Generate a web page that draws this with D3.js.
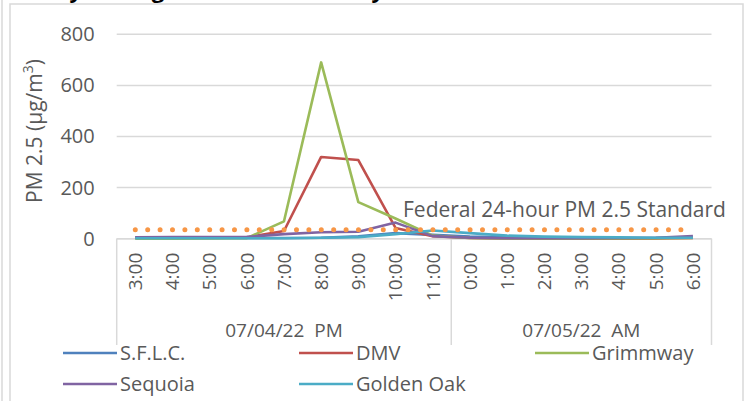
<!DOCTYPE html>
<html>
<head>
<meta charset="utf-8">
<script src="https://cdn.jsdelivr.net/npm/d3@7"></script>
<style>
  body { margin: 0; background: #fff; }
  text { font-family: 'Open Sans', 'Noto Sans', sans-serif; fill: #595959; white-space: pre; }
</style>
</head>
<body>
<div id="chart"></div>
<script>
// data
const hours = ['3:00', '4:00', '5:00', '6:00', '7:00', '8:00', '9:00', '10:00', '11:00',
  '0:00', '1:00', '2:00', '3:00', '4:00', '5:00', '6:00'];
const groups = ['07/04/22  PM', '07/05/22  AM'];
const groupSizes = [9, 7];
const sflc = [5, 5, 4, 3, 3, 4, 9, 22, 15, 8, 5, 4, 3, 3, 3, 6];
const dmv = [3, 3, 3, 5, 30, 320, 308, 42, 10, 3, 1, 0, 0, 0, 1, 3];
const grimmway = [0, 0, 1, 2, 68, 690, 143, 79, 12, 3, 1, 1, 1, 1, 2, 3];
const sequoia = [5, 6, 6, 7, 18, 25, 27, 63, 10, 4, 2, 2, 2, 3, 4, 10];
const goldenOak = [2, 2, 2, 2, 2, 4, 6, 18, 32, 22, 12, 8, 6, 5, 4, 4];
const standard = [35, 35, 35, 35, 35, 35, 35, 35, 35, 35, 35, 35, 35, 35, 35, 35];
const yTicks = [0, 200, 400, 600, 800];

const series = [
  {name: 'S.F.L.C.', values: sflc, color: '#4f81bd'},
  {name: 'DMV', values: dmv, color: '#c0504d'},
  {name: 'Grimmway', values: grimmway, color: '#9bbb59'},
  {name: 'Sequoia', values: sequoia, color: '#8064a2'},
  {name: 'Golden Oak', values: goldenOak, color: '#4bacc6'}
];

const width = 749;
const height = 401;
const plot = {left: 116.7, right: 711.5, top: 34.3, bottom: 238.7};
const grid = '#d9d9d9';

const svg = d3.select('#chart').append('svg')
  .attr('width', width)
  .attr('height', height);

// chart frame
svg.append('line')
  .attr('x1', 2).attr('x2', 2).attr('y1', 0).attr('y2', height)
  .style('stroke', grid).style('stroke-width', 1.5);
svg.append('rect')
  .attr('x', 10).attr('y', 4)
  .attr('width', 733).attr('height', height + 10)
  .style('fill', 'none').style('stroke', grid).style('stroke-width', 1.5);

// title, cut by the top edge as in the source
svg.append('text')
  .attr('x', 8).attr('y', -2.5)
  .style('font-size', '22px').style('font-weight', 'bold').style('fill', '#000')
  .text('Hourly Average Concentrations by Site');

// scales
const x = d3.scaleBand()
  .domain(d3.range(hours.length))
  .range([plot.left, plot.right]);
const cx = i => x(i) + x.bandwidth() / 2;
const y = d3.scaleLinear()
  .domain([0, 800])
  .range([plot.bottom, plot.top]);

// gridlines
svg.append('g').attr('class', 'grid')
  .selectAll('line')
  .data(yTicks)
  .join('line')
  .attr('x1', plot.left).attr('x2', plot.right)
  .attr('y1', d => y(d)).attr('y2', d => y(d))
  .style('stroke', grid).style('stroke-width', 1.5);

// y axis
const yAxis = svg.append('g')
  .attr('transform', `translate(${plot.left}, 0)`)
  .call(d3.axisLeft(y).tickValues(yTicks).tickSize(0).tickPadding(22));
yAxis.select('.domain').remove();
yAxis.selectAll('text')
  .style('font-size', '20px')
  .style('font-family', "'Open Sans', sans-serif")
  .attr('fill', '#595959');

// y title
const yTitle = svg.append('text')
  .attr('transform', 'translate(42, 131) rotate(-90)')
  .attr('text-anchor', 'middle')
  .style('font-size', '21px');
yTitle.append('tspan').text('PM 2.5 (µg/m');
yTitle.append('tspan').text('3').attr('baseline-shift', 'super').style('font-size', '14px');
yTitle.append('tspan').text(')');

// x axis: hour labels
const xAxis = svg.append('g')
  .attr('transform', `translate(0, ${plot.bottom})`)
  .call(d3.axisBottom(x).tickFormat(i => hours[i]).tickSize(0));
xAxis.select('.domain').remove();
xAxis.selectAll('text')
  .attr('transform', 'rotate(-90)')
  .attr('text-anchor', 'end')
  .attr('x', -14)
  .attr('y', 0)
  .attr('dy', '0.36em')
  .style('font-size', '19px')
  .style('font-family', "'Open Sans', sans-serif")
  .attr('fill', '#595959');

// x axis: date groups and dividers
let start = 0;
const bounds = [x(0)];
groups.forEach((g, k) => {
  const end = start + groupSizes[k] - 1;
  const left = x(start);
  const right = x(end) + x.bandwidth();
  bounds.push(right);
  svg.append('text')
    .attr('x', (left + right) / 2)
    .attr('y', 330)
    .attr('dy', '0.35em')
    .attr('text-anchor', 'middle')
    .style('font-size', '19px')
    .text(g);
  start = end + 1;
});
svg.append('line')
  .attr('x1', plot.left).attr('x2', plot.right)
  .attr('y1', plot.bottom).attr('y2', plot.bottom)
  .style('stroke', grid).style('stroke-width', 1.5);
svg.append('g').selectAll('line')
  .data(bounds)
  .join('line')
  .attr('x1', d => d).attr('x2', d => d)
  .attr('y1', plot.bottom).attr('y2', 345)
  .style('stroke', grid).style('stroke-width', 1.5);

// series lines
const line = d3.line()
  .x((d, i) => cx(i))
  .y(d => y(d));
svg.append('g').attr('class', 'lines')
  .selectAll('path')
  .data(series)
  .join('path')
  .attr('d', d => line(d.values))
  .style('fill', 'none')
  .style('stroke', d => d.color)
  .style('stroke-width', 2.6)
  .style('stroke-linejoin', 'round');

// federal standard, round dots
svg.append('path')
  .attr('d', line(standard))
  .style('fill', 'none')
  .style('stroke', '#f79646')
  .style('stroke-width', 5)
  .style('stroke-linecap', 'round')
  .style('stroke-dasharray', '0 12.4');
svg.append('text')
  .attr('x', 403)
  .attr('y', 217)
  .style('font-size', '21px')
  .text('Federal 24-hour PM 2.5 Standard');

// legend
const legend = svg.append('g').attr('class', 'legend')
  .selectAll('g')
  .data(series)
  .join('g')
  .attr('transform', (d, i) => `translate(${63 + (i % 3) * 236}, ${353 + Math.floor(i / 3) * 31})`);
legend.append('line')
  .attr('x1', 0).attr('x2', 54)
  .style('stroke', d => d.color)
  .style('stroke-width', 2.6);
legend.append('text')
  .attr('x', 57)
  .attr('dy', '0.35em')
  .style('font-size', '20px')
  .text(d => d.name);
</script>
</body>
</html>
